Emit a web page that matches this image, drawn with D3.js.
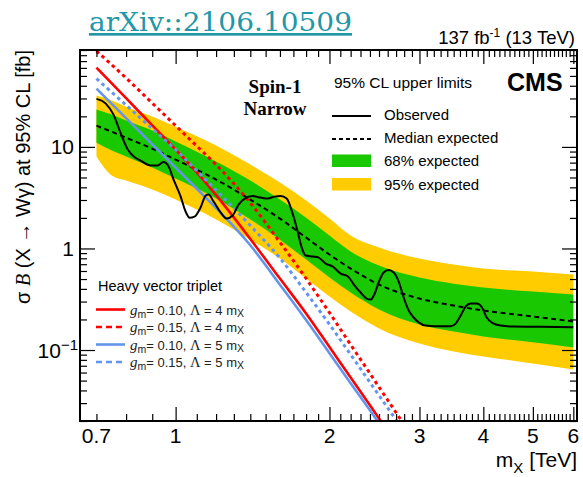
<!DOCTYPE html>
<html>
<head>
<meta charset="utf-8">
<script src="https://cdn.jsdelivr.net/npm/d3@7"></script>
<style>
  body { margin: 0; background: #fff; }
  svg { display: block; font-family: "Liberation Sans", Arial, Helvetica, sans-serif; }
</style>
</head>
<body>
<script>
// ---- Expected limits (fb) versus resonance mass (TeV) ----
const bandMass = [0.7, 0.75, 0.8, 0.9, 1.0, 1.2, 1.4, 1.6, 1.8, 2.0, 2.2, 2.5, 3.0, 3.5, 4.0, 5.0, 6.0];
const expMedian = [16.2, 14.1, 12.3, 9.62, 7.50, 4.77, 3.03, 1.97, 1.28, 0.871, 0.634, 0.441, 0.321, 0.274, 0.245, 0.214, 0.191];
const exp68Hi = [23.3, 20.8, 18.2, 14.5, 11.3, 7.17, 4.66, 3.03, 2.01, 1.34, 0.932, 0.678, 0.517, 0.450, 0.412, 0.376, 0.352];
const exp68Lo = [11.0, 9.20, 8.03, 6.26, 4.88, 3.10, 1.93, 1.22, 0.777, 0.517, 0.368, 0.250, 0.178, 0.152, 0.136, 0.119, 0.106];
const exp95Hi = [32.0, 28.6, 24.9, 19.9, 15.8, 10.3, 6.70, 4.45, 2.96, 1.97, 1.34, 1.02, 0.795, 0.694, 0.634, 0.592, 0.553];
const exp95Lo = [8.03, 5.22, 4.66, 3.80, 3.03, 1.93, 1.22, 0.795, 0.505, 0.336, 0.239, 0.163, 0.116, 0.0966, 0.0863, 0.0736, 0.0643];

// ---- Observed limit ----
const obsMass = [0.700, 0.730, 0.756, 0.780, 0.806, 0.828, 0.854, 0.894, 0.922, 0.947, 0.969, 0.991,
  1.023, 1.046, 1.065, 1.089, 1.119, 1.145, 1.160, 1.187, 1.225, 1.258, 1.293, 1.328, 1.365, 1.415,
  1.467, 1.514, 1.562, 1.605, 1.649, 1.694, 1.733, 1.765, 1.797, 1.854, 1.905, 1.966, 2.029, 2.103,
  2.171, 2.240, 2.301, 2.364, 2.408, 2.452, 2.496, 2.553, 2.611, 2.671, 2.732, 2.794, 2.858, 2.923,
  2.989, 3.084, 3.228, 3.453, 3.531, 3.612, 3.694, 3.778, 3.882, 3.971, 4.061, 4.172, 4.325, 4.586,
  5.180, 6.000];
const obsLimit = [29.7, 26.7, 20.8, 13.8, 9.41, 8.03, 7.33, 6.55, 6.55, 7.09, 6.40, 4.76,
  3.24, 2.31, 2.01, 2.06, 2.53, 3.32, 3.39, 2.89, 2.26, 1.97, 2.11, 2.70, 3.10, 3.28,
  3.17, 3.10, 3.24, 3.28, 3.10, 2.21, 1.47, 1.02, 0.851, 0.832, 0.813, 0.710, 0.664, 0.566,
  0.532, 0.431, 0.368, 0.321, 0.314, 0.360, 0.462, 0.579, 0.613, 0.579, 0.472, 0.329, 0.245, 0.209,
  0.187, 0.174, 0.1715, 0.1715, 0.182, 0.2186, 0.268, 0.287, 0.287, 0.265, 0.209, 0.184, 0.174, 0.170,
  0.169, 0.168];

// ---- Heavy vector triplet predictions (fb) ----
const hvtMass = [0.7, 0.8, 0.9, 1.0, 1.1, 1.2, 1.4, 1.6, 1.8, 2.0, 2.2, 2.4, 2.6, 2.8];
const hvtG10L4 = [60.3, 30.2, 16.3, 9.40, 5.60, 3.35, 1.24, 0.505, 0.229, 0.107, 0.0536, 0.0286, 0.0158, 0.0089];
const hvtG15L4 = [88.0, 47.7, 27.0, 16.2, 10.2, 6.67, 2.81, 1.15, 0.506, 0.233, 0.113, 0.0587, 0.0321, 0.0184];
const hvtG10L5 = [37.5, 19.2, 10.6, 6.26, 3.87, 2.50, 1.075, 0.44, 0.197, 0.093, 0.0472, 0.0255, 0.0144, 0.0082];
const hvtG15L5 = [47.0, 25.8, 15.1, 9.40, 5.82, 3.76, 1.68, 0.803, 0.369, 0.179, 0.0902, 0.048, 0.0269, 0.0158];

// ---- Axis labels ----
const xTickLabels = [0.7, 1, 2, 3, 4, 5, 6];
const yTickLabels = [0.1, 1, 10];

const W = 583, H = 477;
const P = { left: 80, right: 577, top: 50, bottom: 421 };
const RED = "#ff0000", BLUE = "#6495ed", GREEN = "#19c800", YELLOW = "#ffcc00";

const svg = d3.select("body").append("svg").attr("width", W).attr("height", H);

const x = d3.scaleLog().domain([0.65, 6.1]).range([P.left, P.right]);
const y = d3.scaleLog().domain([0.02, 90]).range([P.bottom, P.top]);

svg.append("clipPath").attr("id", "plotArea").append("rect")
  .attr("x", P.left).attr("y", P.top).attr("width", P.right - P.left).attr("height", P.bottom - P.top);
const plot = svg.append("g").attr("clip-path", "url(#plotArea)");

// Bands
const band = (lo, hi) => d3.area()
  .x((d, i) => x(bandMass[i])).y0((d, i) => y(lo[i])).y1((d, i) => y(hi[i]))
  .curve(d3.curveMonotoneX);
plot.append("path").datum(bandMass).attr("d", band(exp95Lo, exp95Hi)).attr("fill", YELLOW);
plot.append("path").datum(bandMass).attr("d", band(exp68Lo, exp68Hi)).attr("fill", GREEN);

const curve = (ms) => d3.line().x((d, i) => x(ms[i])).y(d => y(d)).curve(d3.curveMonotoneX);

plot.append("path").datum(expMedian).attr("d", curve(bandMass))
  .attr("fill", "none").attr("stroke", "#000").attr("stroke-width", 2).attr("stroke-dasharray", "5,3.5");

// HVT predictions
const hvt = [
  { v: hvtG10L4, c: RED, dash: null },
  { v: hvtG15L4, c: RED, dash: "3.5,3.5" },
  { v: hvtG10L5, c: BLUE, dash: null },
  { v: hvtG15L5, c: BLUE, dash: "3.5,3.5" }
];
hvt.forEach(h => {
  plot.append("path").datum(h.v).attr("d", curve(hvtMass))
    .attr("fill", "none").attr("stroke", h.c).attr("stroke-width", h.dash ? 3 : 2.6)
    .attr("stroke-dasharray", h.dash);
});

// Observed
plot.append("path").datum(obsLimit).attr("d", curve(obsMass))
  .attr("fill", "none").attr("stroke", "#000").attr("stroke-width", 2);

// ---- Axes: ticks on all four sides ----
const xMajor = [1, 2, 3, 4, 5, 6];
const xMinor = d3.range(7, 61).filter(k => k % 10 !== 0).map(k => k / 10);
const yMajor = [0.1, 1, 10];
const yMinor = [];
[0.01, 0.1, 1, 10].forEach(dec => d3.range(2, 10).forEach(k => {
  const v = +(k * dec).toPrecision(3);
  if (v >= 0.02 && v <= 90) yMinor.push(v);
}));

const tickGroup = (axis, tx, ty) => svg.append("g")
  .attr("transform", `translate(${tx},${ty})`)
  .call(axis)
  .call(g => g.select(".domain").remove())
  .call(g => g.selectAll(".tick line").attr("stroke", "#000").attr("stroke-width", 1.2));

tickGroup(d3.axisBottom(x).tickValues(xMinor).tickSize(-7).tickFormat(""), 0, P.bottom);
tickGroup(d3.axisBottom(x).tickValues(xMajor).tickSize(-14).tickFormat(""), 0, P.bottom);
tickGroup(d3.axisTop(x).tickValues(xMinor).tickSize(-7).tickFormat(""), 0, P.top);
tickGroup(d3.axisTop(x).tickValues(xMajor).tickSize(-14).tickFormat(""), 0, P.top);
tickGroup(d3.axisLeft(y).tickValues(yMinor).tickSize(-7).tickFormat(""), P.left, 0);
tickGroup(d3.axisLeft(y).tickValues(yMajor).tickSize(-15).tickFormat(""), P.left, 0);
tickGroup(d3.axisRight(y).tickValues(yMinor).tickSize(-7).tickFormat(""), P.right, 0);
tickGroup(d3.axisRight(y).tickValues(yMajor).tickSize(-15).tickFormat(""), P.right, 0);

svg.append("rect").attr("x", P.left).attr("y", P.top)
  .attr("width", P.right - P.left).attr("height", P.bottom - P.top)
  .attr("fill", "none").attr("stroke", "#000").attr("stroke-width", 2);

// Tick labels
svg.append("g").selectAll("text").data(xTickLabels).join("text")
  .attr("x", d => x(d)).attr("y", 443).attr("text-anchor", "middle")
  .attr("font-size", 21).text(d => d);

yTickLabels.forEach(v => {
  const t = svg.append("text").attr("x", v === 0.1 ? 78 : 74).attr("y", y(v) + 7.5)
    .attr("text-anchor", "end").attr("font-size", 21);
  if (v === 0.1) {
    t.append("tspan").text("10");
    t.append("tspan").attr("dy", -8).attr("font-size", 15).text("\u22121");
  } else {
    t.text(v);
  }
});

// Axis titles
const xt = svg.append("text").attr("x", 577).attr("y", 467).attr("text-anchor", "end").attr("font-size", 21);
xt.append("tspan").text("m");
xt.append("tspan").attr("dy", 6).attr("font-size", 15).text("X");
xt.append("tspan").attr("dy", -6).text(" [TeV]");

const yt = svg.append("text").attr("transform", "translate(30,50) rotate(-90)")
  .attr("text-anchor", "end").attr("font-size", 20);
yt.append("tspan").text("\u03c3 ");
yt.append("tspan").attr("font-family", "'Liberation Serif', serif").attr("font-style", "italic").text("B");
yt.append("tspan").text(" (X \u2192 W\u03b3) at 95% CL [fb]");

// Header texts
svg.append("text").attr("x", 89).attr("y", 31)
  .attr("font-family", "'DejaVu Serif', serif").attr("font-size", 26.5)
  .attr("fill", "#2297a7").attr("text-decoration", "underline")
  .attr("textLength", 263).attr("lengthAdjust", "spacingAndGlyphs")
  .text("arXiv::2106.10509");

const lumi = svg.append("text").attr("x", 575).attr("y", 44).attr("text-anchor", "end").attr("font-size", 18.5);
lumi.append("tspan").text("137 fb");
lumi.append("tspan").attr("dy", -7).attr("font-size", 12).text("-1");
lumi.append("tspan").attr("dy", 7).text(" (13 TeV)");

svg.append("text").attr("x", 507).attr("y", 91).attr("font-size", 25).attr("font-weight", "bold").text("CMS");

svg.append("text").attr("x", 275).attr("y", 93).attr("text-anchor", "middle")
  .attr("font-family", "'Liberation Serif', serif").attr("font-weight", "bold").attr("font-size", 19).text("Spin-1");
svg.append("text").attr("x", 275).attr("y", 115).attr("text-anchor", "middle")
  .attr("font-family", "'Liberation Serif', serif").attr("font-weight", "bold").attr("font-size", 19).text("Narrow");

// Limit legend
svg.append("text").attr("x", 334).attr("y", 88).attr("font-size", 15.5).text("95% CL upper limits");
const limRows = [
  { label: "Observed", kind: "line", dash: null },
  { label: "Median expected", kind: "line", dash: "4,3" },
  { label: "68% expected", kind: "box", fill: GREEN },
  { label: "95% expected", kind: "box", fill: YELLOW }
];
const limY = [114.5, 137.5, 160.5, 184];
limRows.forEach((r, i) => {
  const cy = limY[i];
  if (r.kind === "line") {
    svg.append("line").attr("x1", 332).attr("x2", 371).attr("y1", cy + 1.5).attr("y2", cy + 1.5)
      .attr("stroke", "#000").attr("stroke-width", 2).attr("stroke-dasharray", r.dash);
  } else {
    svg.append("rect").attr("x", 332).attr("y", cy - 6).attr("width", 39).attr("height", 12.5).attr("fill", r.fill);
  }
  svg.append("text").attr("x", 384).attr("y", cy + 5.5).attr("font-size", 15).text(r.label);
});

// HVT legend
svg.append("text").attr("x", 98).attr("y", 291).attr("font-size", 14.5).text("Heavy vector triplet");
const hvtRows = [
  { g: "0.10", L: "4", c: RED, dash: null },
  { g: "0.15", L: "4", c: RED, dash: "6,4" },
  { g: "0.10", L: "5", c: BLUE, dash: null },
  { g: "0.15", L: "5", c: BLUE, dash: "6,4" }
];
const hvtY = [309.5, 327, 344.5, 362];
hvtRows.forEach((r, i) => {
  const cy = hvtY[i];
  svg.append("line").attr("x1", 96).attr("x2", 125).attr("y1", cy).attr("y2", cy)
    .attr("stroke", r.c).attr("stroke-width", 2.6).attr("stroke-dasharray", r.dash);
  const t = svg.append("text").attr("x", 130).attr("y", cy + 5).attr("font-size", 13).attr("fill", "#222");
  t.append("tspan").attr("font-family", "'Liberation Serif', serif").attr("font-style", "italic").attr("font-size", 15).text("g");
  t.append("tspan").attr("dy", 3).attr("font-size", 10.5).text("m");
  t.append("tspan").attr("dy", -3).text("= " + r.g + ", ");
  t.append("tspan").attr("font-family", "'Liberation Serif', serif").attr("font-size", 14.5).text("\u039b");
  t.append("tspan").text(" = " + r.L + " m");
  t.append("tspan").attr("dy", 2).attr("font-size", 10.5).text("X");
});
</script>
</body>
</html>
